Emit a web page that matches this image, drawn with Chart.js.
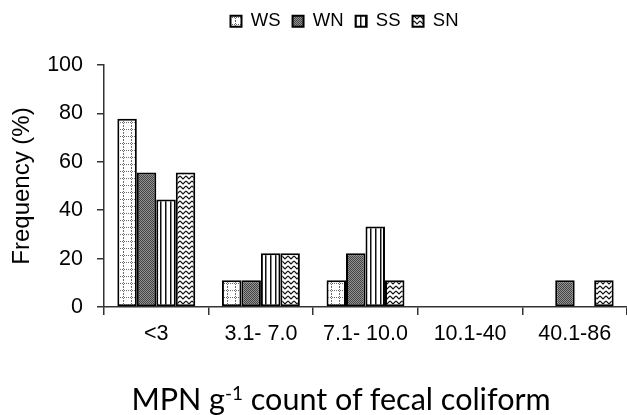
<!DOCTYPE html>
<html>
<head>
<meta charset="utf-8">
<script src="https://cdn.jsdelivr.net/npm/chart.js@4"></script>
<style>
    html, body { margin: 0; padding: 0; background: #fff; }
    #wrap { position: relative; width: 627px; height: 415px; }
    #xTitle {
        position: absolute; left: 341px; top: 383px; transform: translateX(-50%);
        font-family: Lato, sans-serif; font-size: 30.5px; line-height: 1; color: #000; white-space: nowrap;
    }
    #xTitle sup { font-size: 62%; line-height: 0; vertical-align: 0.55em; }
</style>
</head>
<body>
<div id="wrap">
    <canvas id="chart" width="627" height="415"></canvas>
    <div id="xTitle">MPN g<sup>-1</sup> count of fecal coliform</div>
</div>
<script>
var categories = ['<3', '3.1- 7.0', '7.1- 10.0', '10.1-40', '40.1-86'];
var seriesNames = ['WS', 'WN', 'SS', 'SN'];
var wsValues = [77.8, 11.1, 11.1, 0, 0];
var wnValues = [55.6, 11.1, 22.2, 0, 11.1];
var ssValues = [44.4, 22.2, 33.3, 0, 0];
var snValues = [55.6, 22.2, 11.1, 0, 11.1];
var yTicks = [0, 20, 40, 60, 80, 100];

(function () {
    var canvas = document.getElementById('chart');
    var ctx = canvas.getContext('2d');

    Chart.defaults.font.family = '"Liberation Sans", Arial, sans-serif';
    Chart.defaults.color = '#000';

    function makePattern(w, h, draw) {
        var c = document.createElement('canvas');
        c.width = w;
        c.height = h;
        var g = c.getContext('2d');
        g.fillStyle = '#fff';
        g.fillRect(0, 0, w, h);
        draw(g);
        return ctx.createPattern(c, 'repeat');
    }

    // dotted grid
    var patWS = makePattern(8, 7, function (g) {
        g.fillStyle = '#6a6a6a';
        for (var i = 0; i < 8; i += 2) g.fillRect(i, 3, 1, 1);
        for (var j = 0; j < 7; j += 2) g.fillRect(3, j, 1, 1);
    });
    // dark stipple
    var patWN = makePattern(2, 2, function (g) {
        g.fillStyle = '#929292';
        g.fillRect(0, 0, 2, 2);
        g.fillStyle = '#444';
        g.fillRect(0, 0, 1, 1);
        g.fillRect(1, 1, 1, 1);
    });
    // vertical lines
    var patSS = makePattern(5, 1, function (g) {
        g.fillStyle = '#111';
        g.fillRect(0, 0, 1, 1);
        g.fillStyle = '#888';
        g.fillRect(1, 0, 1, 1);
    });
    // zigzag
    var patSN = makePattern(6, 5, function (g) {
        g.strokeStyle = '#111';
        g.lineWidth = 1.2;
        g.beginPath();
        g.moveTo(0, 1);
        g.lineTo(3, 4);
        g.lineTo(6, 1);
        g.stroke();
    });

    var patterns = [patWS, patWN, patSS, patSN];
    var values = [wsValues, wnValues, ssValues, snValues];

    var LEGEND_HEIGHT = 65;
    var LEGEND_SHIFT = 31;

    // legend sits higher than the plot top and a bit off-centre
    var legendPlacer = {
        id: 'legendPlacer',
        beforeLayout: function (chart) {
            var legend = chart.legend;
            if (!legend || legend._placed) return;
            var fit = legend.fit;
            legend.fit = function () {
                fit.call(this);
                this.height = LEGEND_HEIGHT;
            };
            legend._placed = true;
        },
        afterLayout: function (chart) {
            chart.legend.left += LEGEND_SHIFT;
            chart.legend.right += LEGEND_SHIFT;
        }
    };

    var axisColor = '#333';

    new Chart(canvas, {
        type: 'bar',
        data: {
            labels: categories,
            datasets: seriesNames.map(function (name, i) {
                return {
                    label: name,
                    data: values[i],
                    backgroundColor: patterns[i],
                    borderColor: '#000',
                    borderWidth: 2,
                    borderSkipped: false,
                    categoryPercentage: 0.745,
                    barPercentage: 1
                };
            })
        },
        options: {
            responsive: false,
            animation: false,
            layout: { padding: 0 },
            plugins: {
                legend: {
                    position: 'top',
                    labels: {
                        font: { size: 18.5 },
                        boxWidth: 11,
                        boxHeight: 11,
                        padding: 12,
                        color: '#000'
                    }
                },
                tooltip: { enabled: false }
            },
            scales: {
                x: {
                    afterFit: function (s) { s.height = 108; },
                    grid: { offset: true, drawOnChartArea: false, tickLength: 8, color: axisColor, lineWidth: 1.5 },
                    border: { color: axisColor, width: 1.5 },
                    ticks: { font: { size: 21.5 }, color: '#000', padding: 6, maxRotation: 0, autoSkip: false }
                },
                y: {
                    min: yTicks[0],
                    max: yTicks[yTicks.length - 1],
                    afterFit: function (s) { s.width = 104; },
                    afterBuildTicks: function (s) {
                        s.ticks = yTicks.map(function (v) { return { value: v }; });
                    },
                    grid: { drawOnChartArea: false, tickLength: 7, color: axisColor, lineWidth: 1.5 },
                    border: { color: axisColor, width: 1.5 },
                    ticks: { font: { size: 21.5 }, color: '#000', padding: 14 },
                    title: {
                        display: true,
                        text: 'Frequency (%)',
                        font: { size: 24 },
                        color: '#000',
                        padding: { top: 8, bottom: 0 }
                    }
                }
            }
        },
        plugins: [legendPlacer]
    });
})();
</script>
</body>
</html>
